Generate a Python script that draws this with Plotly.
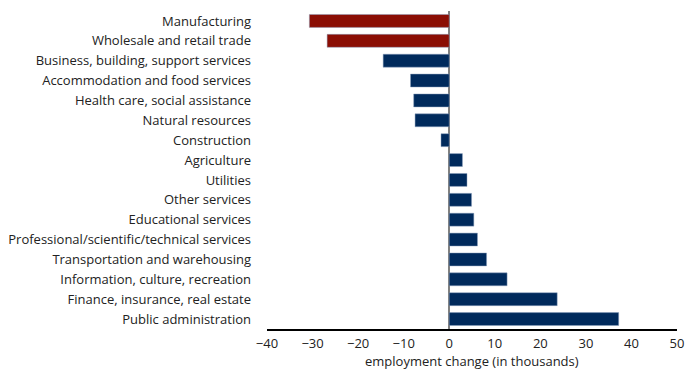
import plotly.graph_objects as go

categories = [
    "Manufacturing",
    "Wholesale and retail trade",
    "Business, building, support services",
    "Accommodation and food services",
    "Health care, social assistance",
    "Natural resources",
    "Construction",
    "Agriculture",
    "Utilities",
    "Other services",
    "Educational services",
    "Professional/scientific/technical services",
    "Transportation and warehousing",
    "Information, culture, recreation",
    "Finance, insurance, real estate",
    "Public administration",
]
values = [-30.7, -26.8, -14.5, -8.5, -7.8, -7.5, -1.8, 2.9, 3.9, 4.9, 5.4, 6.2, 8.2, 12.7, 23.7, 37.2]
highlight = [True, True] + [False] * 14
x_title = "employment change (in thousands)"

RED = "#8B0E04"
NAVY = "#002A5C"
colors = [RED if h else NAVY for h in highlight]

fig = go.Figure(go.Bar(
    x=values, y=categories, orientation="h",
    marker=dict(color=colors, line=dict(color="rgba(140,160,190,0.6)", width=0.8)),
    width=0.65,
))

fig.update_layout(
    width=686, height=372,
    margin=dict(l=267, r=9, t=11, b=43),
    paper_bgcolor="white", plot_bgcolor="white",
    font=dict(family="Open Sans", size=13, color="#222"),
    showlegend=False,
)
fig.add_annotation(
    text=x_title, xref="paper", yref="paper", x=0.5, y=-0.1,
    xanchor="center", yanchor="middle", showarrow=False, font=dict(size=13),
)
fig.update_xaxes(
    range=[-40, 50], dtick=10, tick0=-40, automargin=False,
    showgrid=False, zeroline=True, zerolinecolor="#808080", zerolinewidth=2,
    showline=True, linecolor="black", linewidth=1.5,
    ticks="", tickfont=dict(size=13), ticklabelstandoff=2,
)
fig.update_yaxes(
    autorange="reversed", showgrid=False, showline=False, zeroline=False,
    automargin=False,
    ticks="", ticklabelstandoff=15, tickfont=dict(size=13),
)

fig.write_html("out.html")
